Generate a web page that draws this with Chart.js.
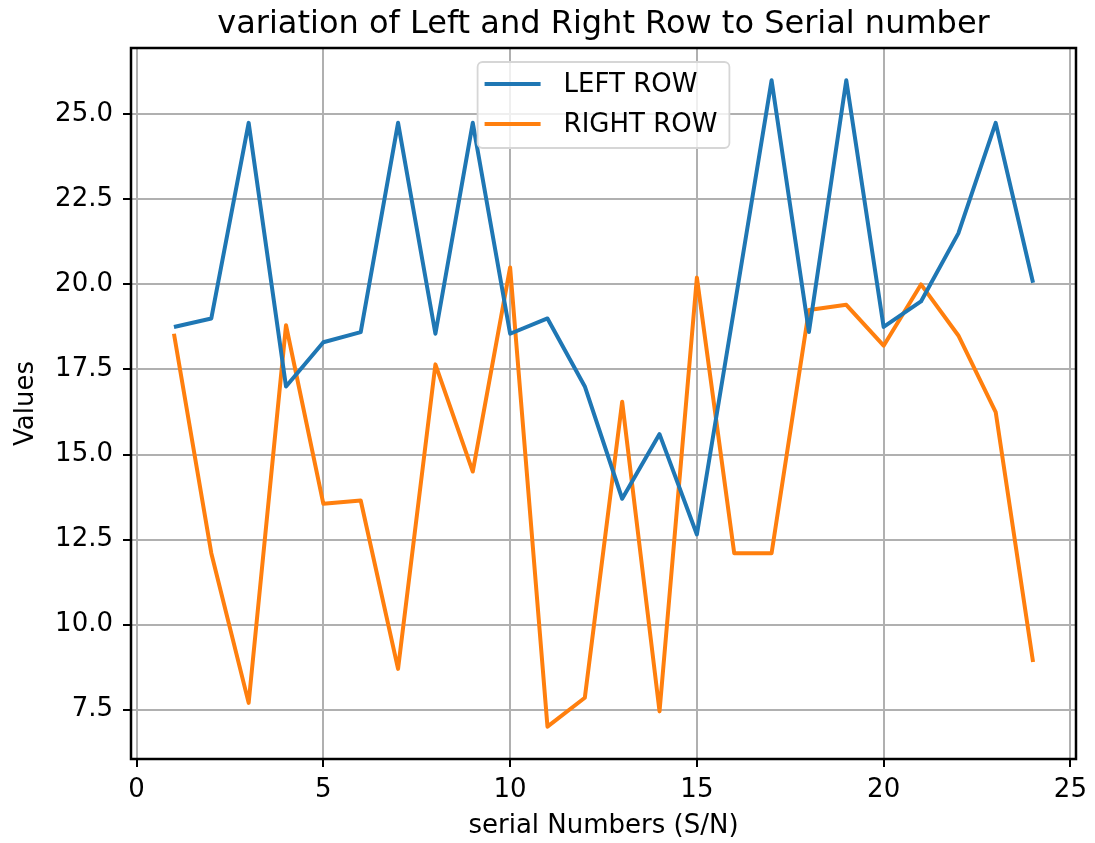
<!DOCTYPE html>
<html lang="en">
<head>
<meta charset="UTF-8">
<meta name="viewport" content="width=device-width, initial-scale=1.0">
<title>variation of Left and Right Row to Serial number</title>
<script src="https://cdn.jsdelivr.net/npm/chart.js"></script>
<style>
    html, body {
        margin: 0;
        padding: 0;
        background: #fff;
    }
    canvas {
        display: block;
    }
</style>
</head>
<body>
<canvas id="grafica" width="1095" height="843"></canvas>

<script>
    const serialNumbers = [1, 2, 3, 4, 5, 6, 7, 8, 9, 10, 11, 12, 13, 14, 15, 16, 17, 18, 19, 20, 21, 22, 23, 24];
    const leftRow = [18.75, 19.0, 24.75, 17.0, 18.3, 18.6, 24.75, 18.55, 24.75, 18.55, 19.0, 17.0,
                     13.7, 15.6, 12.65, 19.3, 26.0, 18.6, 26.0, 18.75, 19.5, 21.5, 24.75, 20.05];
    const rightRow = [18.55, 12.1, 7.7, 18.8, 13.55, 13.65, 8.7, 17.65, 14.5, 20.5, 7.0, 7.85,
                      16.55, 7.45, 20.2, 12.1, 12.1, 19.25, 19.4, 18.2, 20.0, 18.5, 16.25, 8.9];
    const xTicks = [0, 5, 10, 15, 20, 25];
    const yTicks = [7.5, 10, 12.5, 15, 17.5, 20, 22.5, 25];

    const chartTitle = 'variation of Left and Right Row to Serial number';
    const fontFamily = '"DejaVu Sans", sans-serif';

    Chart.defaults.font.family = fontFamily;
    Chart.defaults.color = '#000';

    // frame around the plot, title above it and the boxed legend at upper center
    const frameAndLegend = {
        id: 'frameAndLegend',
        afterDraw(chart) {
            const { ctx, chartArea: a } = chart;
            const midX = (a.left + a.right) / 2;
            ctx.save();

            ctx.strokeStyle = '#000';
            ctx.lineWidth = 2.5;
            ctx.strokeRect(a.left, a.top, a.right - a.left, a.bottom - a.top);

            ctx.fillStyle = '#000';
            ctx.font = '32px ' + fontFamily;
            ctx.textAlign = 'center';
            ctx.textBaseline = 'alphabetic';
            ctx.fillText(chartTitle, midX, 33);

            ctx.font = '26px ' + fontFamily;
            const sets = chart.data.datasets;
            const textW = Math.max(...sets.map(d => ctx.measureText(d.label).width));
            const padL = 7, handle = 56, gap = 23, padR = 12, rowH = 40, firstRow = 22;
            const w = padL + handle + gap + textW + padR;
            const h = firstRow * 2 + rowH * (sets.length - 1) + 2;
            const x0 = midX - w / 2;
            const y0 = a.top + 14;

            ctx.beginPath();
            ctx.roundRect(x0, y0, w, h, 5);
            ctx.fillStyle = 'rgba(255, 255, 255, 0.8)';
            ctx.fill();
            ctx.strokeStyle = '#d6d6d6';
            ctx.lineWidth = 1.8;
            ctx.stroke();

            ctx.textAlign = 'left';
            ctx.textBaseline = 'middle';
            sets.forEach((d, i) => {
                const y = y0 + firstRow + i * rowH;
                ctx.beginPath();
                ctx.moveTo(x0 + padL, y);
                ctx.lineTo(x0 + padL + handle, y);
                ctx.strokeStyle = d.borderColor;
                ctx.lineWidth = 4;
                ctx.stroke();
                ctx.fillStyle = '#000';
                ctx.fillText(d.label, x0 + padL + handle + gap, y + 1);
            });

            ctx.restore();
        }
    };

    const gridStyle = {
        color: '#b0b0b0',
        lineWidth: 2,
        drawTicks: true,
        tickLength: 8,
        tickColor: '#000',
        tickWidth: 2
    };

    const ctx = document.getElementById('grafica').getContext('2d');
    const myChart = new Chart(ctx, {
        type: 'line',
        data: {
            datasets: [{
                label: 'LEFT ROW',
                data: serialNumbers.map((x, i) => ({ x: x, y: leftRow[i] })),
                borderColor: '#1f77b4'
            }, {
                label: 'RIGHT ROW',
                data: serialNumbers.map((x, i) => ({ x: x, y: rightRow[i] })),
                borderColor: '#ff7f0e'
            }]
        },
        options: {
            responsive: false,
            animation: false,
            devicePixelRatio: 1,
            layout: {
                padding: { top: 48, right: 11, left: 0, bottom: 0 },
                autoPadding: false
            },
            elements: {
                point: { radius: 0 },
                line: { tension: 0, borderWidth: 4, borderJoinStyle: 'round', fill: false }
            },
            plugins: {
                legend: { display: false },
                title: { display: false },
                tooltip: { enabled: false }
            },
            scales: {
                x: {
                    type: 'linear',
                    min: -0.15,
                    max: 25.15,
                    afterBuildTicks: axis => { axis.ticks = xTicks.map(v => ({ value: v })); },
                    afterFit: axis => { axis.height = 84; },
                    grid: gridStyle,
                    border: { display: false },
                    ticks: {
                        padding: 8,
                        maxRotation: 0,
                        autoSkip: false,
                        font: { size: 26 },
                        callback: v => String(v)
                    },
                    title: {
                        display: true,
                        text: 'serial Numbers (S/N)',
                        font: { size: 26 },
                        padding: { top: 0, bottom: 1 }
                    }
                },
                y: {
                    type: 'linear',
                    min: 6.05,
                    max: 26.95,
                    afterBuildTicks: axis => { axis.ticks = yTicks.map(v => ({ value: v })); },
                    afterFit: axis => { axis.width = 131; },
                    grid: gridStyle,
                    border: { display: false },
                    ticks: {
                        padding: 10,
                        autoSkip: false,
                        font: { size: 26 },
                        callback: v => v.toFixed(1)
                    },
                    title: {
                        display: true,
                        text: 'Values',
                        font: { size: 26 },
                        padding: { top: 11, bottom: 0 }
                    }
                }
            }
        },
        plugins: [frameAndLegend]
    });
</script>
</body>
</html>
